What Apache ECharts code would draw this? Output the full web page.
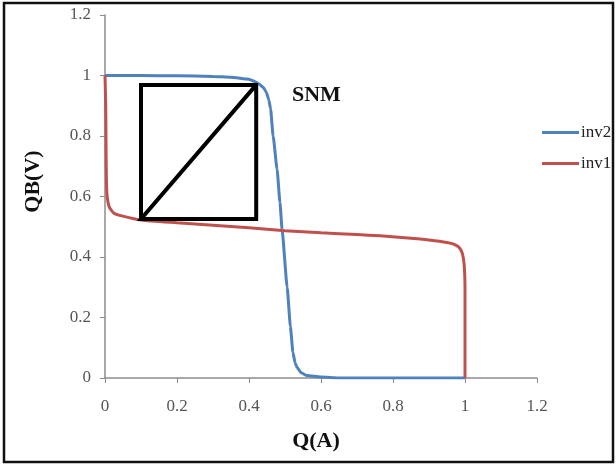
<!DOCTYPE html>
<html>
<head>
<meta charset="utf-8">
<script src="https://cdn.jsdelivr.net/npm/echarts@6/dist/echarts.min.js"></script>
<style>
  html, body { margin: 0; padding: 0; background: #fff; }
  #chart { width: 616px; height: 466px; }
</style>
</head>
<body>
<div id="chart"></div>
<script>
// inv2 曲线 (蓝)
const inv2X = [0, 0.05, 0.1, 0.2, 0.3, 0.35, 0.4, 0.42, 0.43, 0.44, 0.448, 0.455, 0.46, 0.467, 0.478, 0.486, 0.492, 0.506, 0.515, 0.522, 0.528, 0.533, 0.545, 0.561, 0.6, 0.65, 0.8, 1.0];
const inv2Y = [1.0, 1.0, 1.0, 0.999, 0.997, 0.994, 0.988, 0.978, 0.97, 0.96, 0.945, 0.92, 0.89, 0.8, 0.69, 0.58, 0.49, 0.3, 0.17, 0.085, 0.05, 0.036, 0.017, 0.008, 0.003, 0, 0, 0];
// inv1 曲线 (红)
const inv1X = [0, 0.002, 0.003, 0.004, 0.006, 0.012, 0.025, 0.05, 0.1, 0.2, 0.3, 0.4, 0.5, 0.6, 0.7, 0.764, 0.85, 0.9, 0.95, 0.97, 0.985, 0.993, 0.998, 1.0, 1.0];
const inv1Y = [1.0, 0.9, 0.75, 0.65, 0.6, 0.565, 0.545, 0.535, 0.522, 0.513, 0.505, 0.497, 0.487, 0.48, 0.474, 0.47, 0.462, 0.456, 0.448, 0.442, 0.43, 0.41, 0.37, 0.3, 0];
// SNM 方框 + 对角线
const boxX = [0.1, 0.1, 0.42, 0.42, 0.1, 0.42];
const boxY = [0.526, 0.969, 0.969, 0.526, 0.526, 0.969];

const zip = (xs, ys) => xs.map((x, i) => [x, ys[i]]);

const serif = '"Liberation Serif", "DejaVu Serif", serif';

const chart = echarts.init(document.getElementById('chart'));
chart.setOption({
  animation: false,
  grid: { left: 105, right: 79, top: 15, bottom: 88 },
  legend: {
    data: ['inv2', 'inv1'],
    orient: 'vertical',
    left: 537,
    top: 119,
    itemWidth: 37,
    itemHeight: 3,
    itemGap: 14,
    icon: 'rect',
    textStyle: { fontFamily: serif, fontSize: 17, color: '#222', padding: [0, 0, 0, -3] }
  },
  xAxis: {
    type: 'value',
    min: 0, max: 1.2, interval: 0.2,
    name: 'Q(A)',
    nameLocation: 'middle',
    nameGap: 52,
    nameTextStyle: { fontFamily: serif, fontSize: 22, fontWeight: 'bold', color: '#111', padding: [0, 10, 0, 0] },
    axisLine: { show: true, lineStyle: { color: '#8c8c8c', width: 1.5 } },
    axisTick: { show: true, length: 5, lineStyle: { color: '#8c8c8c' } },
    splitLine: { show: false },
    axisLabel: { fontFamily: serif, fontSize: 17, color: '#555', margin: 20 }
  },
  yAxis: {
    type: 'value',
    min: 0, max: 1.2, interval: 0.2,
    name: 'QB(V)',
    nameLocation: 'middle',
    nameGap: 61,
    nameTextStyle: { fontFamily: serif, fontSize: 22, fontWeight: 'bold', color: '#111', padding: [0, 0, 0, 30] },
    axisLine: { show: true, lineStyle: { color: '#8c8c8c', width: 1.5 } },
    axisTick: { show: true, length: 5, lineStyle: { color: '#8c8c8c' } },
    splitLine: { show: false },
    axisLabel: { fontFamily: serif, fontSize: 17, color: '#555', margin: 14 }
  },
  graphic: [
    { // 外边框
      type: 'rect',
      shape: { x: 4, y: 3, width: 609, height: 459 },
      style: { fill: 'none', stroke: '#111', lineWidth: 2.5 }
    },
    {
      type: 'text',
      left: 292, top: 84,
      style: { text: 'SNM', font: 'bold 22px ' + serif, fill: '#111' }
    }
  ],
  series: [
    {
      name: 'inv2',
      type: 'line',
      data: zip(inv2X, inv2Y),
      showSymbol: false,
      smooth: 0.15,
      smoothMonotone: 'x',
      lineStyle: { color: '#4f81bd', width: 3 },
      itemStyle: { color: '#4f81bd' }
    },
    {
      name: 'inv1',
      type: 'line',
      data: zip(inv1X, inv1Y),
      showSymbol: false,
      smooth: 0.2,
      lineStyle: { color: '#c0504d', width: 3 },
      itemStyle: { color: '#c0504d' }
    },
    {
      name: 'box',
      type: 'line',
      data: zip(boxX, boxY),
      showSymbol: false,
      lineStyle: { color: '#000', width: 4, join: 'miter' },
      z: 5
    }
  ]
});
</script>
</body>
</html>
